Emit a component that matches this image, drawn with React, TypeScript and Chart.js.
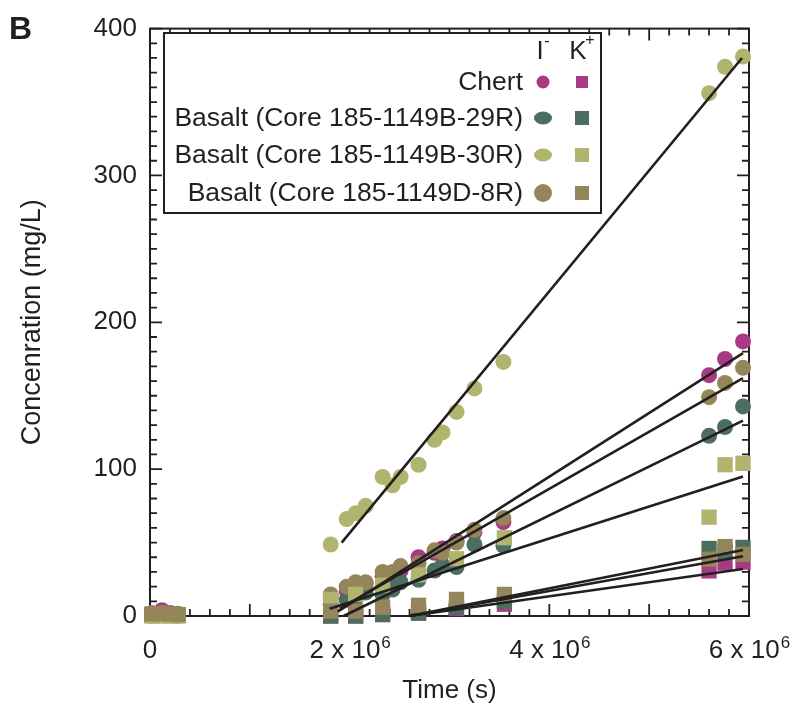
import React, { useEffect, useRef } from 'react';
import { Chart, registerables } from 'chart.js';
Chart.register(...registerables);

const INK = '#231f20';
const FONT = '"Liberation Sans", Arial, sans-serif';

const seriesNames = ['Chert', 'Basalt (Core 185-1149B-29R)', 'Basalt (Core 185-1149B-30R)', 'Basalt (Core 185-1149D-8R)'];
const seriesColors = ['#a83a84', '#4b6e60', '#b0b46e', '#95855a'];

// times (s)
const earlyTimes = [0.02e6, 0.12e6, 0.2e6, 0.28e6];
const iodideTimes = [1.81e6, 1.97e6, 2.06e6, 2.16e6, 2.33e6, 2.43e6, 2.51e6, 2.69e6, 2.85e6, 2.93e6, 3.07e6, 3.25e6, 3.54e6, 5.6e6, 5.76e6, 5.94e6];
const potassiumTimes = [1.81e6, 2.06e6, 2.33e6, 2.69e6, 3.07e6, 3.55e6, 5.6e6, 5.76e6, 5.94e6];

// I- concentrations (mg/L)
const chertI = [1, 4, 2, 1, 12, 17, 20, 22, 27, 28, 31, 40, 43, 46, 51, 57, 64, 164, 175, 187];
const b29I = [0.5, 1, 1, 0.5, 8, 11, 12, 16, 14.7, 18, 23, 24.7, 31, 34.7, 33.3, 48.7, 48, 122.7, 128.7, 142.7];
const b30I = [0, 0.5, 0.5, 0, 48.7, 66, 70, 75, 94.7, 89, 94.7, 103, 120, 125, 139, 155, 173, 356, 374, 381];
const d8I = [2, 2, 2, 1.5, 14.7, 20, 23, 23, 30, 30, 34, 36, 44.7, 43, 50, 58.7, 66.7, 149, 158.7, 169];

// K+ concentrations (mg/L)
const chertK = [0.5, 0.5, 0.5, 0.5, 0, 0, 1, 2, 5, 8, 30.7, 36, 36.7];
const b29K = [0.5, 0.5, 0.5, 0.5, 0, 0, 1, 2, 6, 10, 46, 44, 46.7];
const b30K = [0, 0, 0, 0, 11.3, 14.7, 21, 28, 39, 53.3, 67.3, 103, 104];
const d8K = [1.5, 1.5, 1.5, 1, 3.3, 3.3, 6, 7.3, 11.3, 14.7, 38.7, 47.3, 42];

// linear fits: [start, end]
const fitB30I_x = [1.92e6, 5.93e6];
const fitB30I_y = [50, 380];
const fitChertI_x = [1.88e6, 5.94e6];
const fitChertI_y = [3, 179];
const fitD8I_x = [1.9e6, 5.94e6];
const fitD8I_y = [5, 162];
const fitB29I_x = [1.94e6, 5.94e6];
const fitB29I_y = [0, 133];
const fitB30K_x = [1.8e6, 5.94e6];
const fitB30K_y = [5, 95];
const fitB29K_x = [2.6e6, 5.94e6];
const fitB29K_y = [0, 45];
const fitD8K_x = [2.6e6, 5.94e6];
const fitD8K_y = [0, 40.7];
const fitChertK_x = [2.6e6, 5.94e6];
const fitChertK_y = [0, 32];

const xTickValues = [0, 2e6, 4e6, 6e6];

const zip = (xs: number[], ys: number[]) => xs.map((x, i) => ({ x, y: ys[i] }));

const pointDs = (label: string, xs: number[], ys: number[], color: string, style: string, order: number) => ({
  type: 'scatter' as const,
  label,
  data: zip(xs, ys),
  backgroundColor: color,
  borderColor: color,
  borderWidth: 0,
  pointStyle: style,
  pointRadius: style === 'circle' ? 8 : 10.8,
  pointHoverRadius: style === 'circle' ? 8 : 10.8,
  order,
  clip: false,
});

const lineDs = (xs: number[], ys: number[]) => ({
  type: 'scatter' as const,
  label: 'fit',
  data: zip(xs, ys),
  showLine: true,
  borderColor: INK,
  backgroundColor: INK,
  borderWidth: 2.6,
  pointRadius: 0,
  pointHoverRadius: 0,
  order: 0,
  clip: false,
});

const framePlugin = {
  id: 'frameTicks',
  beforeDatasetsDraw(chart: any) {
    const { ctx, chartArea: a, scales } = chart;
    const xs = scales.x, ys = scales.y;
    ctx.save();
    ctx.strokeStyle = INK;
    ctx.lineWidth = 2;
    ctx.strokeRect(a.left, a.top, a.right - a.left, a.bottom - a.top);
    ctx.lineWidth = 1.8;
    ctx.beginPath();
    for (let i = 0; i <= 30; i++) {
      const px = xs.getPixelForValue(i * 0.2e6);
      const len = i % 5 === 0 ? 12 : 7;
      ctx.moveTo(px, a.bottom); ctx.lineTo(px, a.bottom - len);
      ctx.moveTo(px, a.top); ctx.lineTo(px, a.top + len);
    }
    for (let i = 0; i <= 40; i++) {
      const py = ys.getPixelForValue(i * 10);
      const len = i % 10 === 0 ? 12 : 7;
      ctx.moveTo(a.left, py); ctx.lineTo(a.left + len, py);
      ctx.moveTo(a.right, py); ctx.lineTo(a.right - len, py);
    }
    ctx.stroke();

    // x tick labels with superscript
    ctx.fillStyle = INK;
    ctx.textBaseline = 'alphabetic';
    ctx.textAlign = 'left';
    const baseY = a.bottom + 42;
    xTickValues.forEach((v) => {
      const px = xs.getPixelForValue(v);
      if (v === 0) {
        ctx.font = `26px ${FONT}`;
        const w = ctx.measureText('0').width;
        ctx.fillText('0', px - w / 2, baseY);
        return;
      }
      const base = `${v / 1e6} x 10`;
      ctx.font = `26px ${FONT}`;
      const w1 = ctx.measureText(base).width;
      ctx.font = `17px ${FONT}`;
      const w2 = ctx.measureText('6').width;
      const x0 = px - (w1 + w2) / 2;
      ctx.font = `26px ${FONT}`;
      ctx.fillText(base, x0, baseY);
      ctx.font = `17px ${FONT}`;
      ctx.fillText('6', x0 + w1 + 1, baseY - 10);
    });
    ctx.restore();
  },
  afterDraw(chart: any) {
    const { ctx } = chart;
    ctx.save();
    // panel letter
    ctx.fillStyle = INK;
    ctx.font = `bold 32px ${FONT}`;
    ctx.textAlign = 'left';
    ctx.textBaseline = 'alphabetic';
    ctx.fillText('B', 9, 39);

    // legend box
    ctx.fillStyle = '#ffffff';
    ctx.fillRect(164, 33, 437, 180);
    ctx.strokeStyle = INK;
    ctx.lineWidth = 2;
    ctx.strokeRect(164, 33, 437, 180);

    ctx.fillStyle = INK;
    ctx.font = `26px ${FONT}`;
    ctx.textBaseline = 'middle';
    ctx.textAlign = 'center';
    const colI = 542, colK = 581;
    ctx.fillText('I', colI - 2, 52);
    ctx.fillText('K', colK - 3, 52);
    ctx.font = `16px ${FONT}`;
    ctx.fillText('-', colI + 5, 42);
    ctx.fillText('+', colK + 9, 41);

    const rows = [82, 118, 155, 193];
    ctx.font = `26.5px ${FONT}`;
    ctx.textAlign = 'right';
    seriesNames.forEach((name, i) => {
      const y = rows[i];
      ctx.fillStyle = INK;
      ctx.fillText(name, 523, y + 1);
      ctx.fillStyle = seriesColors[i];
      ctx.beginPath();
      const rx = i === 0 ? 6.5 : i === 3 ? 9 : 9;
      const ry = i === 0 ? 6.5 : i === 3 ? 9 : 6.5;
      ctx.ellipse(colI + 1, y, rx, ry, 0, 0, Math.PI * 2);
      ctx.fill();
      const s = i === 0 ? 12 : 14;
      ctx.fillRect(colK + 1 - s / 2, y - s / 2, s, s);
    });
    ctx.restore();
  },
};

export default function App() {
  const ref = useRef<HTMLCanvasElement | null>(null);
  useEffect(() => {
    if (!ref.current) return;
    const chart = new Chart(ref.current, {
      type: 'scatter',
      data: {
        datasets: [
          pointDs('Chert I', [...earlyTimes, ...iodideTimes], chertI, seriesColors[0], 'circle', 10),
          pointDs('29R I', [...earlyTimes, ...iodideTimes], b29I, seriesColors[1], 'circle', 9),
          pointDs('30R I', [...earlyTimes, ...iodideTimes], b30I, seriesColors[2], 'circle', 8),
          pointDs('8R I', [...earlyTimes, ...iodideTimes], d8I, seriesColors[3], 'circle', 7),
          pointDs('Chert K', [...earlyTimes, ...potassiumTimes], chertK, seriesColors[0], 'rect', 6),
          pointDs('29R K', [...earlyTimes, ...potassiumTimes], b29K, seriesColors[1], 'rect', 5),
          pointDs('30R K', [...earlyTimes, ...potassiumTimes], b30K, seriesColors[2], 'rect', 4),
          pointDs('8R K', [...earlyTimes, ...potassiumTimes], d8K, seriesColors[3], 'rect', 3),
          lineDs(fitB30I_x, fitB30I_y),
          lineDs(fitChertI_x, fitChertI_y),
          lineDs(fitD8I_x, fitD8I_y),
          lineDs(fitB29I_x, fitB29I_y),
          lineDs(fitB30K_x, fitB30K_y),
          lineDs(fitB29K_x, fitB29K_y),
          lineDs(fitD8K_x, fitD8K_y),
          lineDs(fitChertK_x, fitChertK_y),
        ] as any,
      },
      options: {
        animation: false,
        responsive: true,
        maintainAspectRatio: false,
        layout: { padding: { top: 19, right: 61, left: 0, bottom: 0 } },
        plugins: { legend: { display: false }, tooltip: { enabled: false } },
        scales: {
          x: {
            type: 'linear',
            min: 0,
            max: 6e6,
            grid: { display: false, drawTicks: false },
            border: { display: false },
            ticks: { display: false },
            title: {
              display: true,
              text: 'Time (s)',
              color: INK,
              font: { family: FONT, size: 26 },
              padding: { top: 0, bottom: 9 },
            },
            afterFit: (s: any) => { s.height = 99; },
          },
          y: {
            type: 'linear',
            min: 0,
            max: 400,
            grid: { display: false, drawTicks: false },
            border: { display: false },
            ticks: {
              stepSize: 100,
              color: INK,
              font: { family: FONT, size: 26 },
              padding: 13,
            },
            title: {
              display: true,
              text: 'Concenration (mg/L)',
              color: INK,
              font: { family: FONT, size: 27 },
              padding: { top: 16, bottom: 0 },
            },
            afterFit: (s: any) => { s.width = 150; },
          },
        },
      },
      plugins: [framePlugin],
    });
    return () => chart.destroy();
  }, []);
  return (
    <div style={{ position: 'fixed', left: 0, top: 0, width: 810, height: 715, background: '#fff' }}>
      <canvas ref={ref} />
    </div>
  );
}
